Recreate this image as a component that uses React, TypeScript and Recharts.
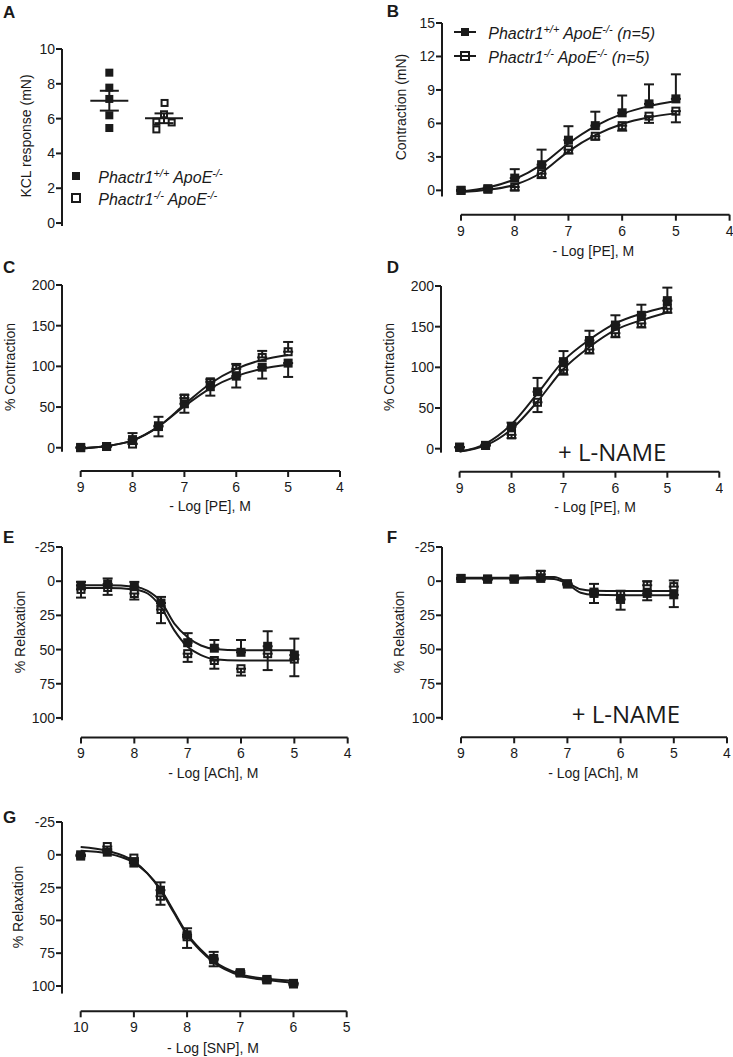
import React from 'react';
import { ComposedChart, Scatter, Line, XAxis, YAxis, ErrorBar, ReferenceLine } from 'recharts';

const FONT = '"Liberation Sans", Arial, Helvetica, sans-serif';
const INK = '#1a1a1a';

// A: KCl response, individual vessels + mean/SEM
const kclWt = [8.64, 7.78, 7.13, 6.19, 5.46];
const kclWtJitter = [0, 0, 0, 0, 0];
const kclKo = [6.9, 6.25, 5.82, 5.78, 5.38];
const kclKoJitter = [0.01, 0, -0.14, 0.14, -0.14];
const kclMean = [7.03, 6.02];
const kclSem = [0.57, 0.28];

// x grids (-log M)
const logPE = [9, 8.5, 8, 7.5, 7, 6.5, 6, 5.5, 5];
const logACh = [9, 8.5, 8, 7.5, 7, 6.5, 6, 5.5, 5];
const logSNP = [10, 9.5, 9, 8.5, 8, 7.5, 7, 6.5, 6];
const fitPE = [9, 8.5, 8, 7.5, 7, 6.5, 6, 5.5, 5];
const fitACh = [9, 8.5, 8, 7.75, 7.5, 7.25, 7, 6.75, 6.5, 6, 5.5, 5];
const fitSNP = [10, 9.5, 9, 8.75, 8.5, 8.25, 8, 7.75, 7.5, 7, 6.5, 6];

// B: contraction (mN) to PE
const bWt = [0, 0.15, 1.1, 2.3, 4.5, 5.8, 6.95, 7.75, 8.2];
const bWtErr = [0, 0.1, 0.8, 1.35, 1.25, 1.25, 1.55, 1.75, 2.2];
const bKo = [0, 0.1, 0.3, 1.5, 3.65, 4.85, 5.8, 6.65, 7.1];
const bKoErr = [0, 0, 0.3, 0.4, 0.35, 0.3, 0.45, 0.6, 1.0];
const bWtFit = [-0.1, 0.25, 1.0, 2.3, 4.2, 5.75, 6.85, 7.55, 8.0];
const bKoFit = [-0.15, 0.05, 0.5, 1.6, 3.5, 4.95, 5.95, 6.55, 6.9];

// C: % contraction to PE
const cWt = [0.4, 1.5, 10, 27, 54, 75, 88, 99, 104];
const cWtErr = [0, 0, 5, 13, 11, 11, 14, 14, 17];
const cKo = [0, 1.5, 4.5, 26, 61, 81, 97, 111, 118];
const cKoErr = [0, 0, 13.5, 12, 4, 3, 6, 8, 12];
const cWtFit = [-1, 2, 9, 26, 51, 73, 88, 97, 102];
const cKoFit = [-1, 2, 9, 26, 53, 79, 97, 108, 114];

// D: % contraction to PE + L-NAME
const dWt = [2, 4, 27, 70, 107, 133, 152, 164, 182];
const dWtErr = [0, 1, 5, 17, 13, 12, 12, 13, 16];
const dKo = [1.5, 4, 17, 57, 97, 122, 142, 154, 172];
const dKoErr = [0, 0, 4, 12, 6, 5, 5, 5, 5];
const dWtFit = [-3.5, 6, 30, 68, 108, 134, 154, 166, 174.5];
const dKoFit = [-3.5, 4, 24, 58, 98, 125, 146, 158, 167.5];

// E: % relaxation to ACh
const eWt = [3, 2, 4, 16, 45, 49, 52, 47.6, 54];
const eWtErr = [2.5, 4, 3.5, 4.5, 7, 6, 9, 11, 12];
const eKo = [6, 4.6, 9, 20.7, 53, 58, 64, 53, 57];
const eKoErr = [6, 5.4, 4.4, 10, 6, 6, 5, 12, 12.5];
const eWtFit = [3, 3, 4, 7, 15, 31, 41, 47, 49.5, 50.5, 50.5, 50.5];
const eKoFit = [5, 5, 6, 9, 19, 36, 48, 54, 57, 58, 58, 58];

// F: % relaxation to ACh + L-NAME
const fWt = [-2, -1.5, -1.5, -2, 2, 9, 13.4, 9, 10];
const fWtErr = [0.5, 0.5, 0.5, 1, 1, 7, 7.5, 5, 9];
const fKo = [-2, -1.5, -1.5, -5, 2, 8, 10, 3, 4];
const fKoErr = [0, 0, 0, 2.5, 0.5, 6, 3, 3, 4.5];
const fWtFit = [-2, -2, -2, -2, -2, -1.5, 2, 8.5, 10, 10.3, 10.3, 10.3];
const fKoFit = [-2.5, -2.5, -2.5, -2.8, -3, -3, 1, 6, 7, 7.2, 7.2, 7.2];

// G: % relaxation to SNP
const gWt = [0, -2, 6.3, 27, 61, 80, 90, 95.4, 98.5];
const gWtErr = [0, 1, 1.5, 6, 5, 6, 1.5, 1, 1];
const gKo = [1, -6.3, 2.5, 31.6, 62.5, 79, 90, 95, 98];
const gKoErr = [0, 2, 1.5, 6.5, 8.5, 6, 2, 1.5, 1.5];
const gWtFit = [-3, -1, 6, 14, 26, 43, 60, 72, 81, 91, 94.5, 96];
const gKoFit = [-6, -3, 5, 14, 27, 44, 61, 73, 82, 92, 95.5, 97.5];

const peTicks = [9, 8, 7, 6, 5, 4];
const snpTicks = [10, 9, 8, 7, 6, 5];
const mnTicks = [0, 3, 6, 9, 12, 15];
const pctTicks = [0, 50, 100, 150, 200];
const relaxTicks = [-25, 0, 25, 50, 75, 100];

type Side = 'low' | 'high';
const pts = (xs: number[], ys: number[], errs: number[], side: Side) =>
  xs.map((x, i) => ({ x, y: ys[i], err: side === 'low' ? [errs[i], 0] : [0, errs[i]] }));
const curve = (xs: number[], ys: number[]) => xs.map((x, i) => ({ x, y: ys[i] }));

const filledSquare = (s: number) => (props: any) => {
  const { cx, cy } = props;
  if (cx == null || cy == null) return <g />;
  return <rect x={cx - s / 2} y={cy - s / 2} width={s} height={s} fill={INK} />;
};
const openSquare = (s: number) => (props: any) => {
  const { cx, cy } = props;
  if (cx == null || cy == null) return <g />;
  return <rect x={cx - s / 2 + 1} y={cy - s / 2 + 1} width={s - 2} height={s - 2} fill="none" stroke={INK} strokeWidth={2} />;
};
const meanBar = (props: any) => {
  const { cx, cy } = props;
  if (cx == null || cy == null) return <g />;
  return <line x1={cx - 19} x2={cx + 19} y1={cy} y2={cy} stroke={INK} strokeWidth={2} />;
};

const ML = 50, MT = 12, MR = 4, MB = 40, YW = 40, XH = 30;
const tickStyle = { fill: INK, fontSize: 14, fontFamily: FONT };
const tickLineStyle = { stroke: INK, strokeWidth: 2 };

type Rect = { l: number; t: number; r: number; b: number };

function Txt(props: { x: number; y: number; children: React.ReactNode; rotate?: boolean; size?: number; anchor?: 'start' | 'middle'; style?: React.CSSProperties }) {
  const { x, y, children, rotate, size = 14, anchor = 'middle', style } = props;
  const tx = anchor === 'middle' ? '-50%' : '0';
  return (
    <div
      style={{
        position: 'absolute', left: x, top: y, whiteSpace: 'nowrap', lineHeight: 1,
        fontSize: size, fontFamily: FONT, color: INK,
        transform: `translate(${tx}, -50%)${rotate ? ' rotate(-90deg)' : ''}`,
        ...style,
      }}
    >
      {children}
    </div>
  );
}

type CurveProps = {
  plot: Rect;
  xDomain: [number, number];
  xTicks: number[];
  yDomain: [number, number];
  yTicks: number[];
  yReversed?: boolean;
  yAxisEnd: number;
  wt: ReturnType<typeof pts>;
  ko: ReturnType<typeof pts>;
  wtFit: { x: number; y: number }[];
  koFit: { x: number; y: number }[];
  koOnTop?: boolean;
};

function CurvePanel(p: CurveProps) {
  const { l, t, r, b } = p.plot;
  const w = r - l + ML + MR;
  const h = b - t + MT + MB;
  const xBottom = p.yReversed ? p.yDomain[1] : p.yDomain[0];
  const yTop = p.yReversed ? p.yDomain[0] : p.yDomain[1];
  const xLeft = p.xDomain[1];
  const xFrom = Math.max(...p.xTicks);
  const xTo = Math.min(...p.xTicks);
  const wtScatter = (
    <Scatter key="wt" data={p.wt} shape={filledSquare(9)} isAnimationActive={false}>
      <ErrorBar dataKey="err" direction="y" width={5} stroke={INK} strokeWidth={2} />
    </Scatter>
  );
  const koScatter = (
    <Scatter key="ko" data={p.ko} shape={openSquare(9)} isAnimationActive={false}>
      <ErrorBar dataKey="err" direction="y" width={5} stroke={INK} strokeWidth={2} />
    </Scatter>
  );
  return (
    <div style={{ position: 'absolute', left: l - ML, top: t - MT, width: w, height: h }}>
      <ComposedChart width={w} height={h} margin={{ top: MT, right: MR, left: ML - YW, bottom: MB - XH }}>
        <XAxis
          type="number" dataKey="x" domain={p.xDomain} reversed ticks={p.xTicks} interval={0}
          allowDataOverflow axisLine={false} tickLine={tickLineStyle} tickSize={6} tickMargin={5}
          tick={tickStyle} height={XH}
        />
        <YAxis
          type="number" dataKey="y" domain={p.yDomain} reversed={!!p.yReversed} ticks={p.yTicks} interval={0}
          allowDataOverflow axisLine={false} tickLine={tickLineStyle} tickSize={6} tickMargin={1}
          tick={tickStyle} width={YW}
        />
        <ReferenceLine
          segment={[{ x: xFrom, y: xBottom }, { x: xTo, y: xBottom }]}
          stroke={INK} strokeWidth={2} ifOverflow="visible"
        />
        <ReferenceLine
          segment={[{ x: xLeft, y: yTop }, { x: xLeft, y: p.yAxisEnd }]}
          stroke={INK} strokeWidth={2} ifOverflow="visible"
        />
        <Line data={p.wtFit} dataKey="y" type="monotone" dot={false} stroke={INK} strokeWidth={2} isAnimationActive={false} />
        <Line data={p.koFit} dataKey="y" type="monotone" dot={false} stroke={INK} strokeWidth={2} isAnimationActive={false} />
        {p.koOnTop ? [wtScatter, koScatter] : [koScatter, wtScatter]}
      </ComposedChart>
    </div>
  );
}

function KclPanel() {
  const plot = { l: 62, t: 49, r: 230, b: 226 };
  const w = plot.r - plot.l + ML + MR;
  const h = plot.b - plot.t + MT + MB;
  const wtPts = kclWt.map((y, i) => ({ x: 1 + kclWtJitter[i], y }));
  const koPts = kclKo.map((y, i) => ({ x: 2 + kclKoJitter[i], y }));
  const means = kclMean.map((y, i) => ({ x: i + 1, y, err: kclSem[i] }));
  return (
    <div style={{ position: 'absolute', left: plot.l - ML, top: plot.t - MT, width: w, height: h }}>
      <ComposedChart width={w} height={h} margin={{ top: MT, right: MR, left: ML - YW, bottom: MB }}>
        <XAxis type="number" dataKey="x" domain={[0.135, 3.206]} allowDataOverflow hide />
        <YAxis
          type="number" dataKey="y" domain={[-0.17, 10]} ticks={[0, 2, 4, 6, 8, 10]} interval={0}
          allowDataOverflow axisLine={{ stroke: INK, strokeWidth: 2 }} tickLine={tickLineStyle}
          tickSize={6} tickMargin={1} tick={tickStyle} width={YW}
        />
        <Scatter data={means} shape={meanBar} isAnimationActive={false}>
          <ErrorBar dataKey="err" direction="y" width={9.5} stroke={INK} strokeWidth={2} />
        </Scatter>
        <Scatter data={wtPts} shape={filledSquare(8)} isAnimationActive={false} />
        <Scatter data={koPts} shape={openSquare(8)} isAnimationActive={false} />
      </ComposedChart>
    </div>
  );
}

const supStyle: React.CSSProperties = { fontSize: 11, verticalAlign: 'super', lineHeight: 0 };

function Genotype({ phactr, apoe, suffix }: { phactr: string; apoe: string; suffix?: string }) {
  return (
    <span style={{ fontStyle: 'italic' }}>
      Phactr1<span style={supStyle}>{phactr}</span> ApoE<span style={supStyle}>{apoe}</span>
      {suffix ? ` ${suffix}` : ''}
    </span>
  );
}

function LegendIcon({ x, y, open, withLine }: { x: number; y: number; open?: boolean; withLine?: boolean }) {
  return (
    <svg style={{ position: 'absolute', left: x - 12, top: y - 6 }} width={24} height={12}>
      {withLine && <line x1={1} x2={23} y1={6} y2={6} stroke={INK} strokeWidth={2} />}
      {open ? (
        <rect x={8} y={2} width={8} height={8} fill={withLine ? 'none' : '#fff'} stroke={INK} strokeWidth={2} />
      ) : (
        <rect x={8} y={2} width={8} height={8} fill={INK} />
      )}
    </svg>
  );
}

const LNAME = '+ L-NAME';

export default function App() {
  return (
    <div style={{ position: 'absolute', left: 0, top: 0, width: 733, height: 1057, background: '#fff', overflow: 'hidden', fontFamily: FONT }}>
      <KclPanel />
      <CurvePanel
        plot={{ l: 441.7, t: 23.3, r: 729.3, b: 215 }} xDomain={[4, 9.354]} xTicks={peTicks}
        yDomain={[-2.18, 15]} yTicks={mnTicks} yAxisEnd={-0.55}
        wt={pts(logPE, bWt, bWtErr, 'high')} ko={pts(logPE, bKo, bKoErr, 'low')}
        wtFit={curve(fitPE, bWtFit)} koFit={curve(fitPE, bKoFit)} koOnTop
      />
      <CurvePanel
        plot={{ l: 62, t: 285, r: 340, b: 471 }} xDomain={[4, 9.36]} xTicks={peTicks}
        yDomain={[-28.6, 200]} yTicks={pctTicks} yAxisEnd={-4.9}
        wt={pts(logPE, cWt, cWtErr, 'low')} ko={pts(logPE, cKo, cKoErr, 'high')}
        wtFit={curve(fitPE, cWtFit)} koFit={curve(fitPE, cKoFit)} koOnTop
      />
      <CurvePanel
        plot={{ l: 440.7, t: 286, r: 719, b: 471.7 }} xDomain={[4, 9.358]} xTicks={peTicks}
        yDomain={[-28.3, 200]} yTicks={pctTicks} yAxisEnd={-4.9}
        wt={pts(logPE, dWt, dWtErr, 'high')} ko={pts(logPE, dKo, dKoErr, 'low')}
        wtFit={curve(fitPE, dWtFit)} koFit={curve(fitPE, dKoFit)} koOnTop
      />
      <CurvePanel
        plot={{ l: 62, t: 546.8, r: 347.7, b: 737.3 }} xDomain={[4, 9.356]} xTicks={peTicks}
        yDomain={[-25, 114.3]} yTicks={relaxTicks} yReversed yAxisEnd={101.7}
        wt={pts(logACh, eWt, eWtErr, 'low')} ko={pts(logACh, eKo, eKoErr, 'high')}
        wtFit={curve(fitACh, eWtFit)} koFit={curve(fitACh, eKoFit)}
      />
      <CurvePanel
        plot={{ l: 441.7, t: 547, r: 726.7, b: 737.3 }} xDomain={[4, 9.357]} xTicks={peTicks}
        yDomain={[-25, 114.3]} yTicks={relaxTicks} yReversed yAxisEnd={101.7}
        wt={pts(logACh, fWt, fWtErr, 'high')} ko={pts(logACh, fKo, fKoErr, 'low')}
        wtFit={curve(fitACh, fWtFit)} koFit={curve(fitACh, fKoFit)} koOnTop
      />
      <CurvePanel
        plot={{ l: 62, t: 821.7, r: 346.7, b: 1011 }} xDomain={[5, 10.351]} xTicks={snpTicks}
        yDomain={[-25, 119.3]} yTicks={relaxTicks} yReversed yAxisEnd={105.8}
        wt={pts(logSNP, gWt, gWtErr, 'low')} ko={pts(logSNP, gKo, gKoErr, 'high')}
        wtFit={curve(fitSNP, gWtFit)} koFit={curve(fitSNP, gKoFit)}
      />

      {/* panel letters */}
      <Txt x={3} y={12} anchor="start" size={17} style={{ fontWeight: 'bold' }}>A</Txt>
      <Txt x={386.7} y={11} anchor="start" size={17} style={{ fontWeight: 'bold' }}>B</Txt>
      <Txt x={3} y={266.5} anchor="start" size={17} style={{ fontWeight: 'bold' }}>C</Txt>
      <Txt x={386.7} y={266.5} anchor="start" size={17} style={{ fontWeight: 'bold' }}>D</Txt>
      <Txt x={3} y={537} anchor="start" size={17} style={{ fontWeight: 'bold' }}>E</Txt>
      <Txt x={386.7} y={537} anchor="start" size={17} style={{ fontWeight: 'bold' }}>F</Txt>
      <Txt x={3} y={816.5} anchor="start" size={17} style={{ fontWeight: 'bold' }}>G</Txt>

      {/* axis titles */}
      <Txt x={26} y={136} rotate>KCL response (mN)</Txt>
      <Txt x={401} y={107} rotate>Contraction (mN)</Txt>
      <Txt x={593.3} y={250.5}>- Log [PE], M</Txt>
      <Txt x={10} y={366.7} rotate>% Contraction</Txt>
      <Txt x={210} y={506}>- Log [PE], M</Txt>
      <Txt x={389} y={367} rotate>% Contraction</Txt>
      <Txt x={595} y={506.7}>- Log [PE], M</Txt>
      <Txt x={20} y={631.7} rotate>% Relaxation</Txt>
      <Txt x={213.3} y={773.3}>- Log [ACh], M</Txt>
      <Txt x={399} y={632} rotate>% Relaxation</Txt>
      <Txt x={593.3} y={773.3}>- Log [ACh], M</Txt>
      <Txt x={17.5} y={906.7} rotate>% Relaxation</Txt>
      <Txt x={213} y={1048.3}>- Log [SNP], M</Txt>

      {/* + L-NAME annotations */}
      <Txt x={558} y={451.7} anchor="start" size={24} style={{ fontFamily: '"Open Sans", sans-serif' }}>{LNAME}</Txt>
      <Txt x={571.7} y={714} anchor="start" size={24} style={{ fontFamily: '"Open Sans", sans-serif' }}>{LNAME}</Txt>

      {/* legend A */}
      <LegendIcon x={76} y={175.7} />
      <Txt x={98.3} y={177.5} anchor="start" size={16}><Genotype phactr="+/+" apoe="-/-" /></Txt>
      <LegendIcon x={76} y={198.3} open />
      <Txt x={98.3} y={200} anchor="start" size={16}><Genotype phactr="-/-" apoe="-/-" /></Txt>

      {/* legend B */}
      <LegendIcon x={464.5} y={31.7} withLine />
      <Txt x={488.3} y={33.5} anchor="start" size={16}><Genotype phactr="+/+" apoe="-/-" suffix="(n=5)" /></Txt>
      <LegendIcon x={464.5} y={56} open withLine />
      <Txt x={488.3} y={57.8} anchor="start" size={16}><Genotype phactr="-/-" apoe="-/-" suffix="(n=5)" /></Txt>
    </div>
  );
}
